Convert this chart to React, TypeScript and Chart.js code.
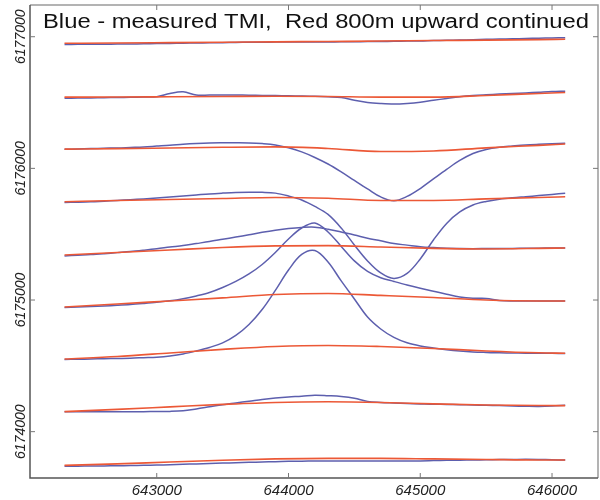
import { useEffect, useRef } from "react";
import { Chart, registerables } from "chart.js";

Chart.register(...registerables);

// Eastings (m) of the measured (blue) profile samples
const eastings = [
  642300, 642400, 642500, 642600, 642700, 642800, 642900, 643000, 643100, 643200,
  643300, 643400, 643500, 643600, 643700, 643800, 643900, 644000, 644100, 644200,
  644300, 644400, 644500, 644600, 644700, 644800, 644900, 645000, 645100, 645200,
  645300, 645400, 645500, 645600, 645700, 645800, 645900, 646000, 646100,
];

// Eastings (m) of the upward-continued (red) profile samples
const redEastings = [642300, 642700, 643100, 643500, 643900, 644300, 644700, 645100, 645500, 645900, 646100];

// Measured TMI profiles, plotted as northing offsets (m)
const blue1 = [6176941, 6176942, 6176943, 6176943, 6176944, 6176945, 6176946, 6176948, 6176949, 6176951, 6176952, 6176954, 6176955, 6176957, 6176958, 6176958, 6176959, 6176960, 6176960, 6176960, 6176960, 6176961, 6176962, 6176963, 6176964, 6176965, 6176967, 6176968, 6176971, 6176973, 6176975, 6176977, 6176980, 6176982, 6176984, 6176987, 6176989, 6176991, 6176993];
const blue2 = [6176532, 6176534, 6176535, 6176537, 6176538, 6176540, 6176542, 6176544, 6176569, 6176582, 6176557, 6176557, 6176557, 6176557, 6176556, 6176554, 6176553, 6176551, 6176550, 6176548, 6176544, 6176538, 6176517, 6176501, 6176493, 6176489, 6176493, 6176502, 6176517, 6176531, 6176544, 6176553, 6176559, 6176564, 6176569, 6176573, 6176578, 6176583, 6176586];
const blue3 = [6176145, 6176147, 6176150, 6176153, 6176155, 6176159, 6176163, 6176169, 6176175, 6176183, 6176189, 6176193, 6176194, 6176194, 6176193, 6176188, 6176178, 6176156, 6176125, 6176083, 6176033, 6175973, 6175908, 6175844, 6175783, 6175754, 6175787, 6175847, 6175920, 6175992, 6176060, 6176113, 6176144, 6176161, 6176170, 6176178, 6176183, 6176187, 6176190];
const blue4 = [6175741, 6175743, 6175746, 6175751, 6175756, 6175762, 6175768, 6175775, 6175783, 6175790, 6175798, 6175806, 6175812, 6175817, 6175819, 6175818, 6175812, 6175790, 6175760, 6175711, 6175650, 6175547, 6175418, 6175297, 6175206, 6175164, 6175202, 6175312, 6175456, 6175582, 6175669, 6175722, 6175749, 6175766, 6175777, 6175785, 6175793, 6175802, 6175811];
const blue5 = [6175335, 6175340, 6175345, 6175352, 6175360, 6175368, 6175378, 6175389, 6175402, 6175414, 6175429, 6175444, 6175461, 6175478, 6175496, 6175514, 6175530, 6175543, 6175551, 6175553, 6175538, 6175516, 6175494, 6175469, 6175450, 6175429, 6175417, 6175405, 6175398, 6175393, 6175391, 6175390, 6175391, 6175392, 6175392, 6175393, 6175394, 6175395, 6175395];
const blue6 = [6174944, 6174947, 6174951, 6174955, 6174960, 6174966, 6174974, 6174983, 6174994, 6175010, 6175031, 6175057, 6175095, 6175141, 6175198, 6175270, 6175361, 6175464, 6175547, 6175585, 6175517, 6175407, 6175297, 6175217, 6175169, 6175141, 6175114, 6175089, 6175067, 6175044, 6175023, 6175013, 6175012, 6174997, 6174993, 6174993, 6174993, 6174993, 6174993];
const blue7 = [6174549, 6174550, 6174552, 6174554, 6174556, 6174558, 6174562, 6174566, 6174575, 6174590, 6174613, 6174640, 6174674, 6174731, 6174814, 6174928, 6175073, 6175228, 6175346, 6175376, 6175289, 6175145, 6175008, 6174871, 6174780, 6174716, 6174675, 6174651, 6174636, 6174623, 6174613, 6174606, 6174602, 6174599, 6174598, 6174596, 6174596, 6174595, 6174594];
const blue8 = [6174151, 6174151, 6174151, 6174151, 6174151, 6174152, 6174152, 6174153, 6174154, 6174159, 6174173, 6174189, 6174205, 6174218, 6174231, 6174245, 6174256, 6174264, 6174269, 6174277, 6174273, 6174267, 6174254, 6174230, 6174222, 6174218, 6174214, 6174211, 6174208, 6174207, 6174205, 6174202, 6174200, 6174198, 6174195, 6174193, 6174192, 6174195, 6174201];
const blue9 = [6173737, 6173738, 6173739, 6173740, 6173741, 6173743, 6173744, 6173746, 6173749, 6173752, 6173755, 6173758, 6173761, 6173764, 6173767, 6173770, 6173772, 6173775, 6173776, 6173777, 6173778, 6173778, 6173778, 6173778, 6173778, 6173778, 6173778, 6173778, 6173780, 6173782, 6173783, 6173785, 6173786, 6173788, 6173789, 6173790, 6173789, 6173787, 6173784];

// 800 m upward-continued profiles
const red1 = [6176950, 6176952, 6176955, 6176958, 6176961, 6176964, 6176967, 6176971, 6176974, 6176978, 6176981];
const red2 = [6176541, 6176542, 6176544, 6176546, 6176548, 6176546, 6176541, 6176541, 6176554, 6176569, 6176576];
const red3 = [6176146, 6176150, 6176155, 6176160, 6176163, 6176151, 6176128, 6176132, 6176156, 6176175, 6176185];
const red4 = [6175747, 6175756, 6175764, 6175771, 6175779, 6175773, 6175756, 6175756, 6175768, 6175779, 6175784];
const red5 = [6175342, 6175361, 6175380, 6175399, 6175411, 6175413, 6175403, 6175392, 6175388, 6175392, 6175395];
const red6 = [6174947, 6174970, 6174993, 6175016, 6175042, 6175050, 6175035, 6175019, 6175000, 6174993, 6174993];
const red7 = [6174552, 6174571, 6174598, 6174625, 6174647, 6174655, 6174647, 6174632, 6174613, 6174599, 6174596];
const red8 = [6174152, 6174169, 6174188, 6174207, 6174222, 6174227, 6174222, 6174211, 6174203, 6174199, 6174198];
const red9 = [6173744, 6173755, 6173770, 6173783, 6173793, 6173797, 6173797, 6173793, 6173789, 6173785, 6173785];

const blueProfiles = [blue1, blue2, blue3, blue4, blue5, blue6, blue7, blue8, blue9];
const redProfiles = [red1, red2, red3, red4, red5, red6, red7, red8, red9];

const xTicks = [643000, 644000, 645000, 646000];
const yTicks = [6174000, 6175000, 6176000, 6177000];
const titleText = "Blue - measured TMI,  Red 800m upward continued";

const BLUE = "#5d5fae";
const RED = "#ec5836";
const FONT = '"Liberation Sans", Arial, Helvetica, sans-serif';

const toPoints = (xs: number[], ys: number[]) => ys.map((y, i) => ({ x: xs[i], y }));

export default function App() {
  const ref = useRef<HTMLCanvasElement>(null);

  useEffect(() => {
    document.body.style.margin = "0";
    const canvas = ref.current;
    if (!canvas) return;

    const framePlugin = {
      id: "frameAndText",
      afterDraw(chart: any) {
        const { ctx, chartArea: a, scales } = chart;
        ctx.save();
        // frame
        ctx.lineWidth = 1.5;
        ctx.strokeStyle = "#9a9a9a";
        ctx.beginPath();
        ctx.moveTo(a.left, a.top);
        ctx.lineTo(a.right, a.top);
        ctx.lineTo(a.right, a.bottom);
        ctx.stroke();
        ctx.strokeStyle = "#555";
        ctx.beginPath();
        ctx.moveTo(a.left, a.top);
        ctx.lineTo(a.left, a.bottom);
        ctx.lineTo(a.right, a.bottom);
        ctx.stroke();
        // inward tick marks
        ctx.lineWidth = 1;
        ctx.strokeStyle = "#777";
        ctx.beginPath();
        for (const v of xTicks) {
          const px = scales.x.getPixelForValue(v);
          ctx.moveTo(px, a.bottom);
          ctx.lineTo(px, a.bottom - 5);
          ctx.moveTo(px, a.top);
          ctx.lineTo(px, a.top + 5);
        }
        for (const v of yTicks) {
          const py = scales.y.getPixelForValue(v);
          ctx.moveTo(a.left, py);
          ctx.lineTo(a.left + 5, py);
          ctx.moveTo(a.right, py);
          ctx.lineTo(a.right - 5, py);
        }
        ctx.stroke();
        // rotated y labels
        ctx.fillStyle = "#222";
        ctx.font = `italic 14px ${FONT}`;
        ctx.textAlign = "center";
        ctx.textBaseline = "alphabetic";
        for (const v of yTicks) {
          const py = scales.y.getPixelForValue(v);
          ctx.save();
          ctx.translate(a.left - 5, py);
          ctx.rotate(-Math.PI / 2);
          ctx.fillText(String(v), 0, 0);
          ctx.restore();
        }
        // title inside the plot
        ctx.fillStyle = "#111";
        ctx.font = `20px ${FONT}`;
        ctx.textAlign = "left";
        const w = ctx.measureText(titleText).width;
        ctx.translate(a.left + 13, a.top + 23);
        ctx.scale(546 / w, 1);
        ctx.fillText(titleText, 0, 0);
        ctx.restore();
      },
    };

    const datasets: any[] = [];
    redProfiles.forEach((ys, i) => {
      datasets.push({
        label: `red${i + 1}`,
        data: toPoints(redEastings, ys),
        borderColor: RED,
        borderWidth: 1.6,
        pointRadius: 0,
        fill: false,
        cubicInterpolationMode: "monotone",
        order: 0,
      });
    });
    blueProfiles.forEach((ys, i) => {
      datasets.push({
        label: `blue${i + 1}`,
        data: toPoints(eastings, ys),
        borderColor: BLUE,
        borderWidth: 1.5,
        pointRadius: 0,
        fill: false,
        tension: 0.35,
        order: 1,
      });
    });

    const chart = new Chart(canvas, {
      type: "line",
      data: { datasets },
      options: {
        animation: false,
        responsive: false,
        devicePixelRatio: 1,
        layout: { padding: { top: 5, right: 2, left: 0, bottom: 0 } },
        plugins: {
          legend: { display: false },
          tooltip: { enabled: false },
          title: { display: false },
        },
        scales: {
          x: {
            type: "linear",
            min: 642038,
            max: 646349,
            afterBuildTicks: (s: any) => {
              s.ticks = xTicks.map((v) => ({ value: v }));
            },
            afterFit: (s: any) => {
              s.height = 22;
            },
            grid: { display: false, drawTicks: false },
            border: { display: false },
            ticks: {
              padding: 4,
              color: "#222",
              autoSkip: false,
              maxRotation: 0,
              font: { family: FONT, size: 15, style: "italic" },
              callback: (v: any) => String(v),
            },
          },
          y: {
            type: "linear",
            min: 6173648,
            max: 6177241,
            afterBuildTicks: (s: any) => {
              s.ticks = yTicks.map((v) => ({ value: v }));
            },
            afterFit: (s: any) => {
              s.width = 30;
            },
            grid: { display: false, drawTicks: false },
            border: { display: false },
            ticks: { display: false },
          },
        },
      } as any,
      plugins: [framePlugin],
    });

    return () => chart.destroy();
  }, []);

  return <canvas ref={ref} width={600} height={500} style={{ display: "block" }} />;
}
